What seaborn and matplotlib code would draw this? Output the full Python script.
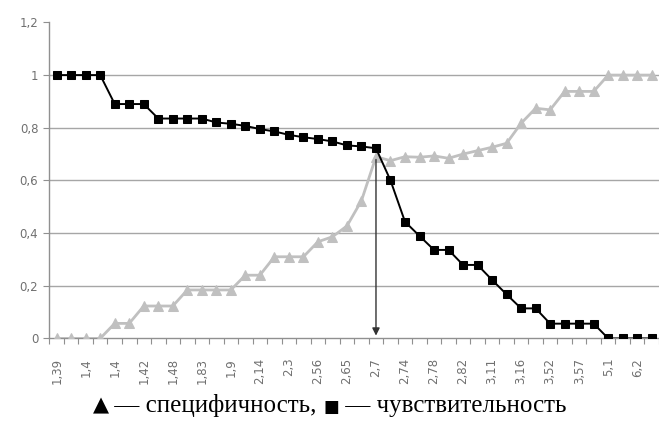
import numpy as np
import pandas as pd
import matplotlib
matplotlib.use('Agg')
import matplotlib.pyplot as plt
from matplotlib.offsetbox import TextArea, HPacker, AnchoredOffsetbox
import seaborn as sns

# tick labels (every second category is labelled)
labels = ['1,39', '1,4', '1,4', '1,42', '1,48', '1,83', '1,9', '2,14', '2,3', '2,56',
          '2,65', '2,7', '2,74', '2,78', '2,82', '3,11', '3,16', '3,52', '3,57', '5,1', '6,2']

# sensitivity (black squares)
sensitivity = [1.0, 1.0, 1.0, 1.0, 0.89, 0.89, 0.89, 0.835, 0.835, 0.835, 0.835,
               0.82, 0.815, 0.807, 0.795, 0.786, 0.773, 0.764, 0.757, 0.748, 0.733, 0.729, 0.722,
               0.60, 0.443, 0.389, 0.336, 0.336, 0.279, 0.279, 0.222, 0.167, 0.114, 0.114,
               0.056, 0.056, 0.056, 0.056, 0.0, 0.0, 0.0, 0.0]

# specificity (grey triangles)
specificity = [0.0, 0.0, 0.0, 0.0, 0.057, 0.057, 0.123, 0.123, 0.123,
               0.184, 0.184, 0.184, 0.184, 0.24, 0.24, 0.31, 0.31, 0.31,
               0.367, 0.386, 0.427, 0.523, 0.69, 0.675,
               0.69, 0.688, 0.693, 0.684, 0.70, 0.713, 0.726, 0.741,
               0.817, 0.874, 0.868, 0.938, 0.938, 0.938, 1.0, 1.0, 1.0, 1.0]

cut_index = 22  # threshold 2,7

df = pd.DataFrame({'idx': np.arange(len(sensitivity)),
                   'sens': sensitivity,
                   'spec': specificity})

sns.set_style('white')
plt.rcParams['font.family'] = ['DejaVu Sans']

fig = plt.figure(figsize=(6.59, 4.23), dpi=100)
ax = fig.add_axes([0.075, 0.2, 0.925, 0.747])

sns.lineplot(data=df, x='idx', y='spec', ax=ax, color='#c0c0c0', lw=2.0,
             marker='^', markersize=7, markeredgecolor='#c0c0c0', zorder=3)
sns.lineplot(data=df, x='idx', y='sens', ax=ax, color='black', lw=1.4,
             marker='s', markersize=5.5, markeredgecolor='black', zorder=4)

# arrow down from the crossing point
ax.annotate('', xy=(cut_index, 0.0), xytext=(cut_index, df['spec'][cut_index]),
            arrowprops=dict(arrowstyle='-|>', color='#333333', lw=1.0, mutation_scale=11),
            zorder=5)

ax.set_xlim(-0.5, 41.2)
ax.set_ylim(0, 1.2)
ax.set_xlabel('')
ax.set_ylabel('')

yt = [0, 0.2, 0.4, 0.6, 0.8, 1.0, 1.2]
ax.set_yticks(yt)
ax.set_yticklabels(['0', '0,2', '0,4', '0,6', '0,8', '1', '1,2'])
for y in yt[1:-1]:
    ax.axhline(y, color='#a6a6a6', lw=1.0, zorder=1)

ax.set_xticks(np.arange(0, len(sensitivity), 2))
ax.set_xticklabels(labels, rotation=90)
ax.set_xticks(np.arange(-0.5, len(sensitivity), 1), minor=True)
ax.tick_params(axis='x', which='major', length=0, pad=14, labelsize=8.5, labelcolor='#707070')
ax.tick_params(axis='x', which='minor', length=4, width=0.8, color='#909090', bottom=True)
ax.tick_params(axis='y', length=4, width=0.8, color='#909090', pad=4, labelsize=8.5,
               labelcolor='#707070', left=True)

for s in ['top', 'right']:
    ax.spines[s].set_visible(False)
for s in ['left', 'bottom']:
    ax.spines[s].set_color('#909090')
    ax.spines[s].set_linewidth(1.0)

# caption: symbols from DejaVu Sans, words in a Times-like serif
serif = dict(fontsize=18, family='Liberation Serif', color='black')
tri = dict(fontsize=15, family='DejaVu Sans', color='black')
sq = dict(fontsize=12, family='DejaVu Sans', color='black')
parts = [TextArea('▲', textprops=tri),
         TextArea(' — специфичность, ', textprops=serif),
         TextArea('■', textprops=sq),
         TextArea(' — чувствительность', textprops=serif)]
box = HPacker(children=parts, align='baseline', pad=0, sep=0)
anchored = AnchoredOffsetbox(loc='center', child=box, frameon=False,
                             bbox_to_anchor=(0.5, 0.042), bbox_transform=fig.transFigure,
                             borderpad=0, pad=0)
fig.add_artist(anchored)

fig.savefig('out.png', dpi=100)
